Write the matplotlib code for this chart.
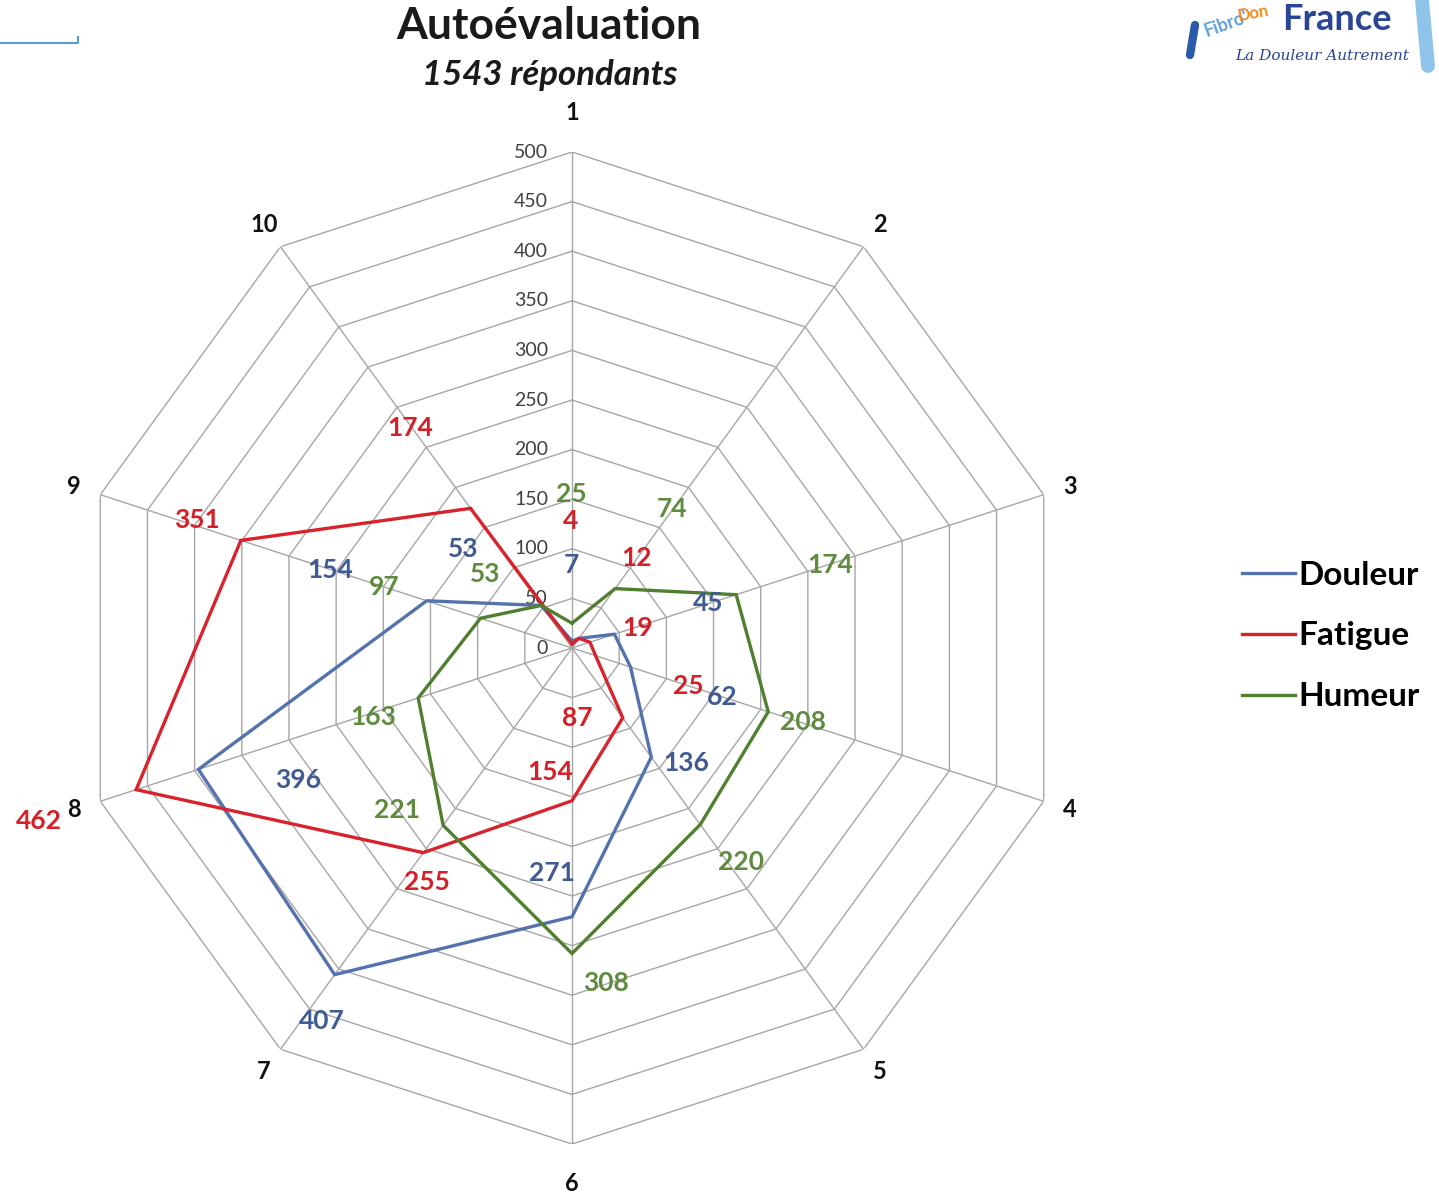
import numpy as np
import matplotlib
matplotlib.use("Agg")
import matplotlib.pyplot as plt
from matplotlib.lines import Line2D

plt.rcParams["font.family"] = ["Lato", "DejaVu Sans"]

# --- data ---
axes_labels = ["1", "2", "3", "4", "5", "6", "7", "8", "9", "10"]
douleur = [7, 12, 45, 62, 136, 271, 407, 396, 154, 53]
fatigue = [4, 12, 19, 25, 87, 154, 255, 462, 351, 174]
humeur = [25, 74, 174, 208, 220, 308, 221, 163, 97, 53]
r_ticks = [0, 50, 100, 150, 200, 250, 300, 350, 400, 450, 500]

# label offsets (pixels) from each vertex, None = label hidden
douleur_off = [(-1, 76), None, (94, 31), (92, -30), (35, -6), (-20, 44),
               (-13, -46), (100, -11), (-97, 31), (-78, 56)]
fatigue_off = [(-1, 123), (58, 80), (48, 14), (93, -30), (-45, 0), (-22, 29),
               (4, -29), (-97, -31), (-44, 20), (-60, 80)]
humeur_off = [(-1, 129), (57, 80), (94, 30), (35, -10), (41, -37), (34, -29),
              (-46, 15), (-45, -19), (-96, 31), (-56, 31)]

series = [
    ("Douleur", douleur, douleur_off, "#5472ad", "#3f5b92"),
    ("Fatigue", fatigue, fatigue_off, "#d8232c", "#d42028"),
    ("Humeur", humeur, humeur_off, "#4f7f2f", "#5f8b3f"),
]

W, H = 1439, 1197
fig = plt.figure(figsize=(W / 100, H / 100), dpi=100)
cx, cy, R = 572, 648, 496
ax = fig.add_axes([(cx - R) / W, (H - cy - R) / H, 2 * R / W, 2 * R / H],
                  projection="polar")
ax.set_theta_zero_location("N")
ax.set_theta_direction(-1)
ax.set_ylim(0, 500)
ax.grid(False)
ax.spines["polar"].set_visible(False)
ax.set_xticks([])
ax.set_yticks([])
ax.patch.set_alpha(0)

n = len(axes_labels)
theta = np.arange(n) * 2 * np.pi / n
theta_c = np.append(theta, theta[0])

# polygon grid
gc = "#a6a6a6"
for r in r_ticks[1:]:
    ax.plot(theta_c, [r] * (n + 1), color=gc, lw=1, zorder=1)
for t in theta:
    ax.plot([t, t], [0, 500], color=gc, lw=1, zorder=1)

# radial tick labels
for r in r_ticks:
    ax.annotate(str(r), xy=(0, r), xytext=(-24, 0), textcoords="offset pixels",
                ha="right", va="center", fontsize=14, color="#404040", zorder=3)

# axis labels
for t, lab in zip(theta, axes_labels):
    rr = 540 if lab in ("1", "6") else 528
    ax.text(t, rr, lab, ha="center", va="center", fontsize=17,
            fontweight="bold", color="#111111", clip_on=False)

# series
for name, vals, offs, col, tcol in series:
    v = np.append(vals, vals[0])
    ax.plot(theta_c, v, color=col, lw=2.4, label=name, zorder=4,
            solid_joinstyle="miter")
    for t, val, off in zip(theta, vals, offs):
        if off is None:
            continue
        ax.annotate(str(val), xy=(t, val), xytext=off,
                    textcoords="offset pixels", ha="center", va="center",
                    fontsize=19, fontweight="bold", color=tcol, zorder=5,
                    annotation_clip=False)

# legend
handles = [Line2D([], [], color=c, lw=2.4) for _, _, _, c, _ in series]
fig.legend(handles, [s[0] for s in series], loc="center left",
           bbox_to_anchor=(1212 / W, 1 - 636 / H), frameon=False,
           prop={"size": 24, "weight": "bold"}, handlelength=1.6,
           handletextpad=0.1, labelspacing=0.95)

# titles
fig.text(549 / W, 1 - 26 / H, "Autoévaluation", ha="center", va="center",
         fontsize=32, fontweight="bold", color="#1a1a1a")
fig.text(550 / W, 1 - 75 / H, "1543 répondants", ha="center", va="center",
         fontsize=25, fontweight="bold", style="italic", color="#1a1a1a")

# little blue line top-left
fig.add_artist(Line2D([0, 78 / W, 78 / W], [1 - 43 / H, 1 - 43 / H, 1 - 37 / H],
                      color="#5b9bd5", lw=1.5))

# logo as text
fig.text(1337 / W, 1 - 19 / H, "France", ha="center", va="center",
         fontsize=26, fontweight="bold", color="#2a4596")
fig.text(1322 / W, 1 - 56 / H, "La Douleur Autrement", ha="center",
         va="center", fontsize=11, style="italic", color="#2a4596",
         family=["DejaVu Serif"])
fig.text(1226 / W, 1 - 24 / H, "Fibro'", ha="center", va="center",
         fontsize=13, fontweight="bold", color="#5fa0dc", rotation=20)
fig.text(1253 / W, 1 - 13 / H, "Don", ha="center", va="center",
         fontsize=12, fontweight="bold", color="#f08a1c", rotation=10)
fig.add_artist(Line2D([1195 / W, 1190 / W], [1 - 25 / H, 1 - 55 / H],
                      color="#2a5aa8", lw=6, solid_capstyle="round"))
fig.add_artist(Line2D([1422 / W, 1428 / W], [1.0, 1 - 66 / H],
                      color="#8ec3ea", lw=10, solid_capstyle="round"))

fig.savefig("out.png", dpi=100)
